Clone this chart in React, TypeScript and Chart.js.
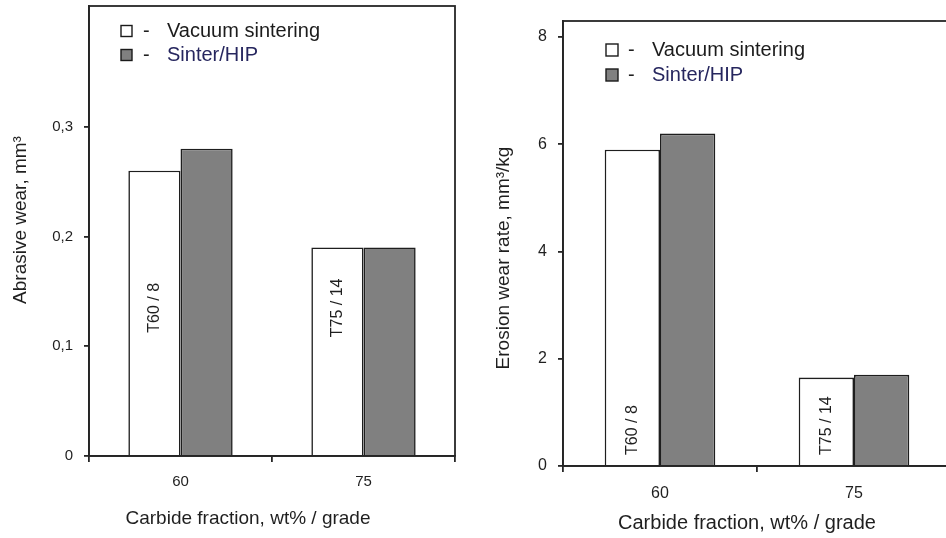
import { useEffect, useRef } from "react";
import { Chart, registerables } from "chart.js";

Chart.register(...registerables);

// ---- data ----
const categories = ["60", "75"];
const grades = ["T60 / 8", "T75 / 14"];
const seriesNames = ["Vacuum sintering", "Sinter/HIP"];

const abrasiveVacuum = [0.26, 0.19];
const abrasiveHip = [0.28, 0.19];
const abrasiveTicks = [0, 0.1, 0.2, 0.3];
const abrasiveMax = 0.41;

const erosionVacuum = [5.9, 1.65];
const erosionHip = [6.2, 1.7];
const erosionTicks = [0, 2, 4, 6, 8];
const erosionMax = 8.3;

const xTitle = "Carbide fraction, wt% / grade";
const abrasiveTitle = "Abrasive wear, mm³";
const erosionTitle = "Erosion wear rate, mm³/kg";

// ---- styling ----
const FONT = "'Liberation Sans', Arial, sans-serif";
const INK = "#1f1f1f";
const LINE = "#262626";
const FILLS = ["#ffffff", "#808080"];
const LEGEND_INK = ["#1c1c1c", "#26265e"];

const fmtTick = (v: number) => (v === 0 ? "0" : String(v).replace(".", ","));

// Frame, legend, axis captions and grade labels drawn on top of the bars
const decorPlugin = {
  id: "decor",
  afterDatasetsDraw(chart: any, _args: any, o: any) {
    const { ctx, scales } = chart;
    ctx.save();
    // grade labels inside the first bar of each group
    const meta = chart.getDatasetMeta(0);
    ctx.fillStyle = INK;
    ctx.font = `${o.gradeSize}px ${FONT}`;
    ctx.textBaseline = "middle";
    meta.data.forEach((bar: any, i: number) => {
      const y =
        o.gradeAlign === "center"
          ? scales.y.getPixelForValue(o.gradeAt)
          : scales.y.getPixelForValue(0) - o.gradeOffset;
      ctx.save();
      ctx.translate(bar.x, y);
      ctx.rotate(-Math.PI / 2);
      ctx.textAlign = o.gradeAlign;
      ctx.fillText(o.grades[i], 0, 0);
      ctx.restore();
    });
    ctx.restore();
  },
  afterDraw(chart: any, _args: any, o: any) {
    const { ctx, chartArea: a } = chart;
    ctx.save();
    // plot frame
    ctx.strokeStyle = LINE;
    ctx.lineWidth = 1.8;
    ctx.strokeRect(a.left, a.top, a.right - a.left, a.bottom - a.top);

    // legend
    const L = o.legend;
    chart.data.datasets.forEach((ds: any, i: number) => {
      const cy = L.y + i * L.gap;
      ctx.fillStyle = ds.backgroundColor;
      ctx.fillRect(L.box, cy - L.size / 2, L.size, L.size);
      ctx.strokeStyle = "#1a1a1a";
      ctx.lineWidth = 1.4;
      ctx.strokeRect(L.box, cy - L.size / 2, L.size, L.size);
      ctx.fillStyle = INK;
      ctx.font = `${L.font}px ${FONT}`;
      ctx.textAlign = "left";
      ctx.textBaseline = "middle";
      ctx.fillText("-", L.dash, cy);
      ctx.fillStyle = LEGEND_INK[i];
      ctx.fillText(ds.label, L.text, cy);
    });

    // axis captions
    ctx.fillStyle = INK;
    ctx.textAlign = "center";
    ctx.textBaseline = "middle";
    ctx.font = `${o.xTitle.size}px ${FONT}`;
    ctx.fillText(o.xTitle.text, o.xTitle.x, o.xTitle.y);
    ctx.save();
    ctx.translate(o.yTitle.x, o.yTitle.y);
    ctx.rotate(-Math.PI / 2);
    ctx.font = `${o.yTitle.size}px ${FONT}`;
    ctx.fillText(o.yTitle.text, 0, 0);
    ctx.restore();
    ctx.restore();
  },
};

type PanelSpec = {
  vacuum: number[];
  hip: number[];
  ticks: number[];
  max: number;
  width: number;
  padTop: number;
  padRight: number;
  yAxisWidth: number;
  xAxisHeight: number;
  tickSize: number;
  xTickPad: number;
  decor: any;
};

function buildConfig(s: PanelSpec): any {
  return {
    type: "bar",
    data: {
      labels: categories,
      datasets: [
        {
          label: seriesNames[0],
          data: s.vacuum,
          backgroundColor: FILLS[0],
          borderColor: "#1e1e1e",
          borderWidth: 1.6,
          borderSkipped: "start",
        },
        {
          label: seriesNames[1],
          data: s.hip,
          backgroundColor: FILLS[1],
          borderColor: "#1e1e1e",
          borderWidth: 1.6,
          borderSkipped: "start",
        },
      ],
    },
    options: {
      responsive: false,
      animation: false,
      events: [],
      layout: { padding: { left: 0, top: s.padTop, right: s.padRight, bottom: 0 } },
      datasets: { bar: { categoryPercentage: 0.57, barPercentage: 1 } },
      scales: {
        x: {
          grid: {
            offset: true,
            drawOnChartArea: false,
            drawTicks: true,
            tickLength: 6,
            color: LINE,
            lineWidth: 1.8,
          },
          border: { display: true, color: LINE, width: 1.8 },
          ticks: {
            color: INK,
            font: { family: FONT, size: s.tickSize },
            padding: s.xTickPad,
          },
          afterFit: (sc: any) => {
            sc.height = s.xAxisHeight;
            sc.paddingLeft = 0;
            sc.paddingRight = 0;
          },
        },
        y: {
          min: 0,
          max: s.max,
          afterBuildTicks: (sc: any) => {
            sc.ticks = s.ticks.map((v) => ({ value: v }));
          },
          grid: {
            drawOnChartArea: false,
            drawTicks: true,
            tickLength: 5,
            color: LINE,
            lineWidth: 1.8,
          },
          border: { display: true, color: LINE, width: 1.8 },
          ticks: {
            color: INK,
            font: { family: FONT, size: s.tickSize },
            padding: 11,
            callback: (v: number) => fmtTick(v),
          },
          afterFit: (sc: any) => {
            sc.width = s.yAxisWidth;
            sc.paddingTop = 0;
            sc.paddingBottom = 0;
          },
        },
      },
      plugins: {
        legend: { display: false },
        tooltip: { enabled: false },
        decor: s.decor,
      },
    },
    plugins: [decorPlugin],
  };
}

function BarPanel({ spec, left }: { spec: PanelSpec; left: number }) {
  const ref = useRef<HTMLCanvasElement>(null);
  useEffect(() => {
    const chart = new Chart(ref.current as HTMLCanvasElement, buildConfig(spec));
    return () => chart.destroy();
  }, []);
  return (
    <canvas
      ref={ref}
      width={spec.width}
      height={538}
      style={{ position: "absolute", left, top: 0, width: spec.width, height: 538 }}
    />
  );
}

const abrasivePanel: PanelSpec = {
  vacuum: abrasiveVacuum,
  hip: abrasiveHip,
  ticks: abrasiveTicks,
  max: abrasiveMax,
  width: 470,
  padTop: 6,
  padRight: 15,
  yAxisWidth: 89,
  xAxisHeight: 82,
  tickSize: 15,
  xTickPad: 11,
  decor: {
    grades,
    gradeSize: 16,
    gradeAlign: "center",
    gradeAt: 0.135,
    gradeOffset: 0,
    legend: { box: 121, dash: 143, text: 167, y: 31, gap: 24, size: 11, font: 20 },
    xTitle: { text: xTitle, x: 248, y: 519, size: 19 },
    yTitle: { text: abrasiveTitle, x: 21, y: 220, size: 19 },
  },
};

const erosionPanel: PanelSpec = {
  vacuum: erosionVacuum,
  hip: erosionHip,
  ticks: erosionTicks,
  max: erosionMax,
  width: 490,
  padTop: 21,
  padRight: 9,
  yAxisWidth: 93,
  xAxisHeight: 72,
  tickSize: 16,
  xTickPad: 12,
  decor: {
    grades,
    gradeSize: 16,
    gradeAlign: "left",
    gradeAt: 0,
    gradeOffset: 11,
    legend: { box: 136, dash: 158, text: 182, y: 50, gap: 25, size: 12, font: 20 },
    xTitle: { text: xTitle, x: 277, y: 523, size: 20 },
    yTitle: { text: erosionTitle, x: 34, y: 258, size: 19 },
  },
};

export default function App() {
  return (
    <div
      style={{
        position: "fixed",
        left: 0,
        top: 0,
        width: 946,
        height: 538,
        overflow: "hidden",
        background: "#ffffff",
      }}
    >
      <BarPanel spec={abrasivePanel} left={0} />
      <BarPanel spec={erosionPanel} left={470} />
    </div>
  );
}
